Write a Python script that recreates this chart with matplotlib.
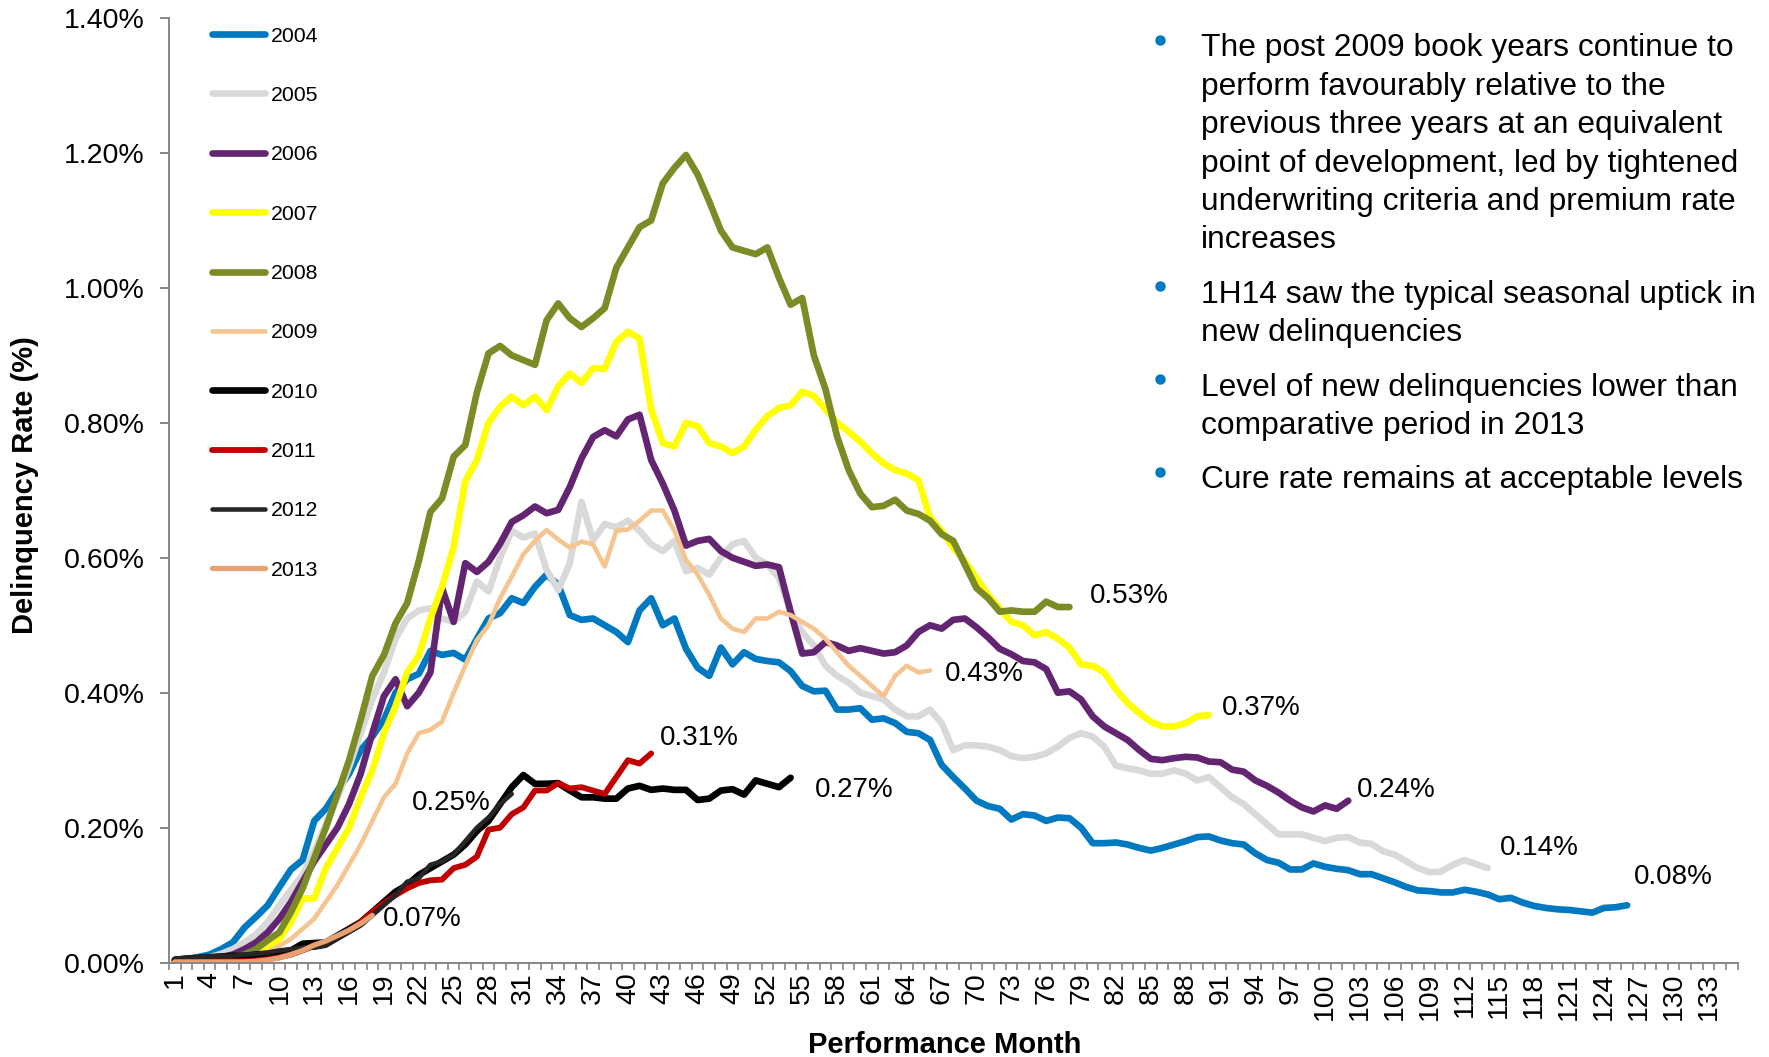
import numpy as np
import matplotlib
matplotlib.use("Agg")
import matplotlib.pyplot as plt
from matplotlib.lines import Line2D

plt.rcParams['font.family'] = ['Liberation Sans', 'DejaVu Sans']

# ---------------- data ----------------
years = ["2004", "2005", "2006", "2007", "2008", "2009", "2010", "2011", "2012", "2013"]

d2004 = [0.003, 0.005, 0.008, 0.012, 0.02, 0.03, 0.052, 0.068, 0.085, 0.112,
         0.138, 0.152, 0.21, 0.228, 0.255, 0.28, 0.315, 0.335, 0.36, 0.40,
         0.42, 0.428, 0.462, 0.456, 0.459, 0.449, 0.48, 0.51, 0.518, 0.54,
         0.533, 0.557, 0.575, 0.56, 0.515, 0.508, 0.51, 0.50, 0.49, 0.475,
         0.522, 0.54, 0.50, 0.51, 0.465, 0.437, 0.425, 0.467, 0.442, 0.46,
         0.45, 0.447, 0.445, 0.432, 0.41, 0.402, 0.403, 0.375, 0.375, 0.377,
         0.36, 0.362, 0.355, 0.342, 0.34, 0.33, 0.293, 0.275, 0.258, 0.24,
         0.232, 0.228, 0.212, 0.22, 0.218, 0.21, 0.215, 0.214, 0.20, 0.177,
         0.177, 0.178, 0.175, 0.17, 0.166, 0.17, 0.175, 0.18, 0.186, 0.187,
         0.181, 0.177, 0.175, 0.162, 0.152, 0.148, 0.138, 0.138, 0.147, 0.142,
         0.139, 0.137, 0.131, 0.131, 0.125, 0.119, 0.112, 0.107, 0.106, 0.104,
         0.104, 0.108, 0.105, 0.101, 0.094, 0.096, 0.089, 0.084, 0.081, 0.079,
         0.078, 0.076, 0.074, 0.081, 0.082, 0.085]

d2005 = [0.003, 0.004, 0.006, 0.008, 0.013, 0.02, 0.03, 0.042, 0.06, 0.085,
         0.108, 0.13, 0.165, 0.205, 0.245, 0.29, 0.34, 0.39, 0.43, 0.48,
         0.51, 0.522, 0.525, 0.51, 0.505, 0.52, 0.565, 0.55, 0.60, 0.64,
         0.63, 0.636, 0.582, 0.552, 0.592, 0.683, 0.626, 0.65, 0.645, 0.655,
         0.64, 0.62, 0.61, 0.625, 0.58, 0.585, 0.575, 0.60, 0.62, 0.625,
         0.60, 0.59, 0.57, 0.52, 0.49, 0.47, 0.44, 0.425, 0.415, 0.40,
         0.395, 0.39, 0.375, 0.365, 0.365, 0.375, 0.355, 0.315, 0.322, 0.322,
         0.32, 0.315, 0.306, 0.303, 0.305, 0.31, 0.32, 0.333, 0.34, 0.335,
         0.32, 0.292, 0.288, 0.285, 0.28, 0.28, 0.285, 0.28, 0.27, 0.275,
         0.26, 0.245, 0.235, 0.22, 0.205, 0.19, 0.19, 0.19, 0.185, 0.18,
         0.185, 0.186, 0.178, 0.176, 0.165, 0.16, 0.15, 0.14, 0.134, 0.135,
         0.145, 0.152, 0.146, 0.14]

d2006 = [0.003, 0.004, 0.005, 0.006, 0.008, 0.012, 0.02, 0.03, 0.045, 0.065,
         0.09, 0.12, 0.15, 0.175, 0.20, 0.235, 0.28, 0.34, 0.395, 0.42,
         0.38, 0.40, 0.43, 0.555, 0.505, 0.592, 0.579, 0.594, 0.621, 0.653,
         0.663, 0.676, 0.666, 0.671, 0.705, 0.747, 0.779, 0.789, 0.78, 0.805,
         0.812, 0.745, 0.71, 0.67, 0.618, 0.625, 0.628, 0.61, 0.60, 0.594,
         0.588, 0.59, 0.586, 0.52, 0.458, 0.46, 0.475, 0.47, 0.462, 0.466,
         0.462, 0.458, 0.46, 0.47, 0.49, 0.50, 0.495, 0.508, 0.51, 0.497,
         0.482, 0.465, 0.457, 0.447, 0.445, 0.435, 0.40, 0.402, 0.39, 0.365,
         0.35, 0.34, 0.33, 0.315, 0.302, 0.30, 0.303, 0.305, 0.304, 0.298,
         0.297, 0.286, 0.283, 0.27, 0.262, 0.252, 0.24, 0.23, 0.224, 0.233,
         0.228, 0.24]

d2007 = [0.002, 0.003, 0.004, 0.005, 0.006, 0.007, 0.008, 0.012, 0.02, 0.035,
         0.06, 0.095, 0.095, 0.14, 0.17, 0.20, 0.245, 0.285, 0.34, 0.38,
         0.43, 0.455, 0.51, 0.557, 0.616, 0.713, 0.745, 0.80, 0.824, 0.839,
         0.826, 0.839, 0.819, 0.854, 0.873, 0.859, 0.881, 0.88, 0.92, 0.935,
         0.925, 0.82, 0.77, 0.765, 0.80, 0.795, 0.77, 0.765, 0.755, 0.765,
         0.79, 0.81, 0.822, 0.826, 0.846, 0.84, 0.82, 0.80, 0.787, 0.772,
         0.755, 0.74, 0.73, 0.725, 0.715, 0.66, 0.64, 0.615, 0.595, 0.57,
         0.545, 0.525, 0.505, 0.50, 0.485, 0.49, 0.48, 0.467, 0.442, 0.44,
         0.43, 0.405, 0.385, 0.37, 0.357, 0.35, 0.35, 0.355, 0.365, 0.367]

d2008 = [0.003, 0.004, 0.005, 0.006, 0.007, 0.008, 0.012, 0.02, 0.033, 0.045,
         0.075, 0.11, 0.155, 0.20, 0.25, 0.30, 0.36, 0.425, 0.456, 0.503,
         0.533, 0.595, 0.668, 0.688, 0.75, 0.767, 0.845, 0.903, 0.914, 0.90,
         0.893, 0.886, 0.952, 0.977, 0.955, 0.942, 0.955, 0.97, 1.03, 1.06,
         1.09, 1.10, 1.155, 1.178, 1.197, 1.168, 1.128, 1.085, 1.06, 1.055,
         1.05, 1.06, 1.015, 0.975, 0.985, 0.90, 0.85, 0.78, 0.73, 0.695,
         0.675, 0.677, 0.686, 0.67, 0.665, 0.655, 0.635, 0.625, 0.59, 0.555,
         0.54, 0.52, 0.522, 0.52, 0.52, 0.535, 0.527, 0.527]

d2009 = [0.001, 0.001, 0.002, 0.002, 0.003, 0.003, 0.004, 0.007, 0.015, 0.025,
         0.035, 0.05, 0.065, 0.09, 0.115, 0.145, 0.175, 0.21, 0.245, 0.265,
         0.31, 0.34, 0.345, 0.357, 0.40, 0.44, 0.478, 0.50, 0.54, 0.572,
         0.605, 0.625, 0.641, 0.627, 0.615, 0.624, 0.62, 0.587, 0.64, 0.642,
         0.655, 0.67, 0.67, 0.64, 0.597, 0.575, 0.545, 0.51, 0.495, 0.49,
         0.51, 0.51, 0.52, 0.515, 0.505, 0.495, 0.48, 0.46, 0.44, 0.425,
         0.41, 0.395, 0.425, 0.44, 0.43, 0.433]

d2010 = [0.004, 0.006, 0.007, 0.008, 0.009, 0.01, 0.01, 0.012, 0.013, 0.015,
         0.018, 0.028, 0.029, 0.03, 0.04, 0.05, 0.06, 0.075, 0.09, 0.105,
         0.115, 0.13, 0.14, 0.15, 0.16, 0.175, 0.195, 0.21, 0.235, 0.26,
         0.278, 0.265, 0.265, 0.266, 0.255, 0.245, 0.245, 0.243, 0.243, 0.258,
         0.262, 0.256, 0.258, 0.256, 0.256, 0.241, 0.243, 0.255, 0.257, 0.249,
         0.27, 0.265, 0.26, 0.274]

d2011 = [0.002, 0.002, 0.002, 0.002, 0.002, 0.002, 0.002, 0.003, 0.005, 0.008,
         0.012, 0.018, 0.025, 0.03, 0.038, 0.048, 0.06, 0.075, 0.088, 0.10,
         0.11, 0.118, 0.122, 0.123, 0.14, 0.145, 0.157, 0.197, 0.20, 0.22,
         0.23, 0.255, 0.255, 0.266, 0.258, 0.26, 0.255, 0.25, 0.275, 0.30,
         0.295, 0.31]

d2012 = [0.006, 0.007, 0.008, 0.009, 0.01, 0.01, 0.012, 0.013, 0.015, 0.018,
         0.02, 0.022, 0.022, 0.025, 0.035, 0.045, 0.055, 0.07, 0.085, 0.10,
         0.12, 0.125, 0.145, 0.15, 0.16, 0.18, 0.20, 0.215, 0.235, 0.25]

d2013 = [0.001, 0.001, 0.001, 0.001, 0.001, 0.001, 0.001, 0.002, 0.004, 0.007,
         0.012, 0.018, 0.026, 0.032, 0.04, 0.048, 0.058, 0.07]

series = [d2004, d2005, d2006, d2007, d2008, d2009, d2010, d2011, d2012, d2013]
end_labels = ["0.08%", "0.14%", "0.24%", "0.37%", "0.53%", "0.43%", "0.27%", "0.31%", "0.25%", "0.07%"]

n_months = 135
y_ticks = [0.0, 0.2, 0.4, 0.6, 0.8, 1.0, 1.2, 1.4]
x_label_months = list(range(1, 134, 3))

bullets = [
    ["The post 2009 book years continue to",
     "perform favourably relative to the",
     "previous three years at an equivalent",
     "point of development, led by tightened",
     "underwriting criteria and premium rate",
     "increases"],
    ["1H14 saw the typical seasonal uptick in",
     "new delinquencies"],
    ["Level of new delinquencies lower than",
     "comparative period in 2013"],
    ["Cure rate remains at acceptable levels"],
]

# ---------------- styles ----------------
colors = ["#0079C1", "#D9D9D9", "#632571", "#FFFF00", "#7B8B26",
          "#F6C48F", "#000000", "#C00000", "#262626", "#E8A172"]
widths = [4.8, 4.8, 4.8, 4.8, 4.8, 3.3, 4.8, 4.2, 3.3, 3.8]
# label offsets in pixels (dx, dy), alignment
label_off = [(7, 28, 'left'), (12, 20, 'left'), (9, 11, 'left'), (13, 7, 'left'),
             (20, 11, 'left'), (15, -4, 'left'), (24, -12, 'left'), (9, 15, 'left'),
             (-21, -9, 'right'), (11, -4, 'left')]

W, H = 1769, 1057
fig = plt.figure(figsize=(W / 100, H / 100), dpi=100)
ax_l, ax_r, ax_b, ax_t = 169, 1737.5, 962.6, 18
ax = fig.add_axes([ax_l / W, 1 - ax_b / H, (ax_r - ax_l) / W, (ax_b - ax_t) / H])

for name, vals, c, lw in zip(years, series, colors, widths):
    x = np.arange(1, len(vals) + 1)
    ax.plot(x, vals, color=c, lw=lw, label=name,
            solid_capstyle='round', solid_joinstyle='round')

for vals, txt, (dx, dy, ha) in zip(series, end_labels, label_off):
    ax.annotate(txt, xy=(len(vals), vals[-1]), xytext=(dx, dy),
                textcoords='offset pixels', ha=ha, va='center',
                fontsize=20, color='black')

ax.set_xlim(0.5, n_months + 0.5)
ax.set_ylim(0, 1.4)

axis_gray = "#868686"
for s in ['top', 'right']:
    ax.spines[s].set_visible(False)
for s in ['left', 'bottom']:
    ax.spines[s].set_color(axis_gray)
    ax.spines[s].set_linewidth(1.4)

ax.set_yticks(y_ticks)
ax.set_yticklabels([f"{v:.2f}%" for v in y_ticks])
ax.tick_params(axis='y', direction='out', length=6.3, width=1.4, color=axis_gray,
               pad=11.5, labelsize=20.5, labelcolor='black')

ax.set_xticks(x_label_months)
ax.set_xticklabels([str(m) for m in x_label_months], rotation=90)
ax.set_xticks(np.arange(0.5, n_months + 1, 1), minor=True)
ax.tick_params(axis='x', which='major', length=0, pad=7, labelsize=20.5, labelcolor='black')
ax.tick_params(axis='x', which='minor', direction='out', length=4.8, width=1.2, color=axis_gray)

leg = ax.legend(loc='upper left', bbox_to_anchor=(212 / W, 1 - 26.5 / H),
                bbox_transform=fig.transFigure, frameon=False, fontsize=15.3,
                handlelength=2.5, handletextpad=0.28, labelspacing=1.9,
                borderpad=0, borderaxespad=0)
for h in leg.get_lines():
    h.set_solid_capstyle('round')

fig.text(25 / W, 1 - 485 / H, "Delinquency Rate (%)", rotation=90, ha='center',
         va='center', fontsize=21, fontweight='bold')
fig.text(945 / W, 4 / H, "Performance Month", ha='center', va='baseline',
         fontsize=21, fontweight='bold')

# bullet text panel
bullet_color = "#0079C1"
y = 56.4
for para in bullets:
    fig.add_artist(Line2D([1159.6 / W], [1 - (y - 16.5) / H], marker='o', markersize=6.5,
                          color=bullet_color, linestyle='none', transform=fig.transFigure))
    for line in para:
        fig.text(1201 / W, 1 - y / H, line, ha='left', va='baseline', fontsize=22.9,
                 color='black')
        y += 38.4
    y += 16

fig.savefig("out.png", dpi=100)
